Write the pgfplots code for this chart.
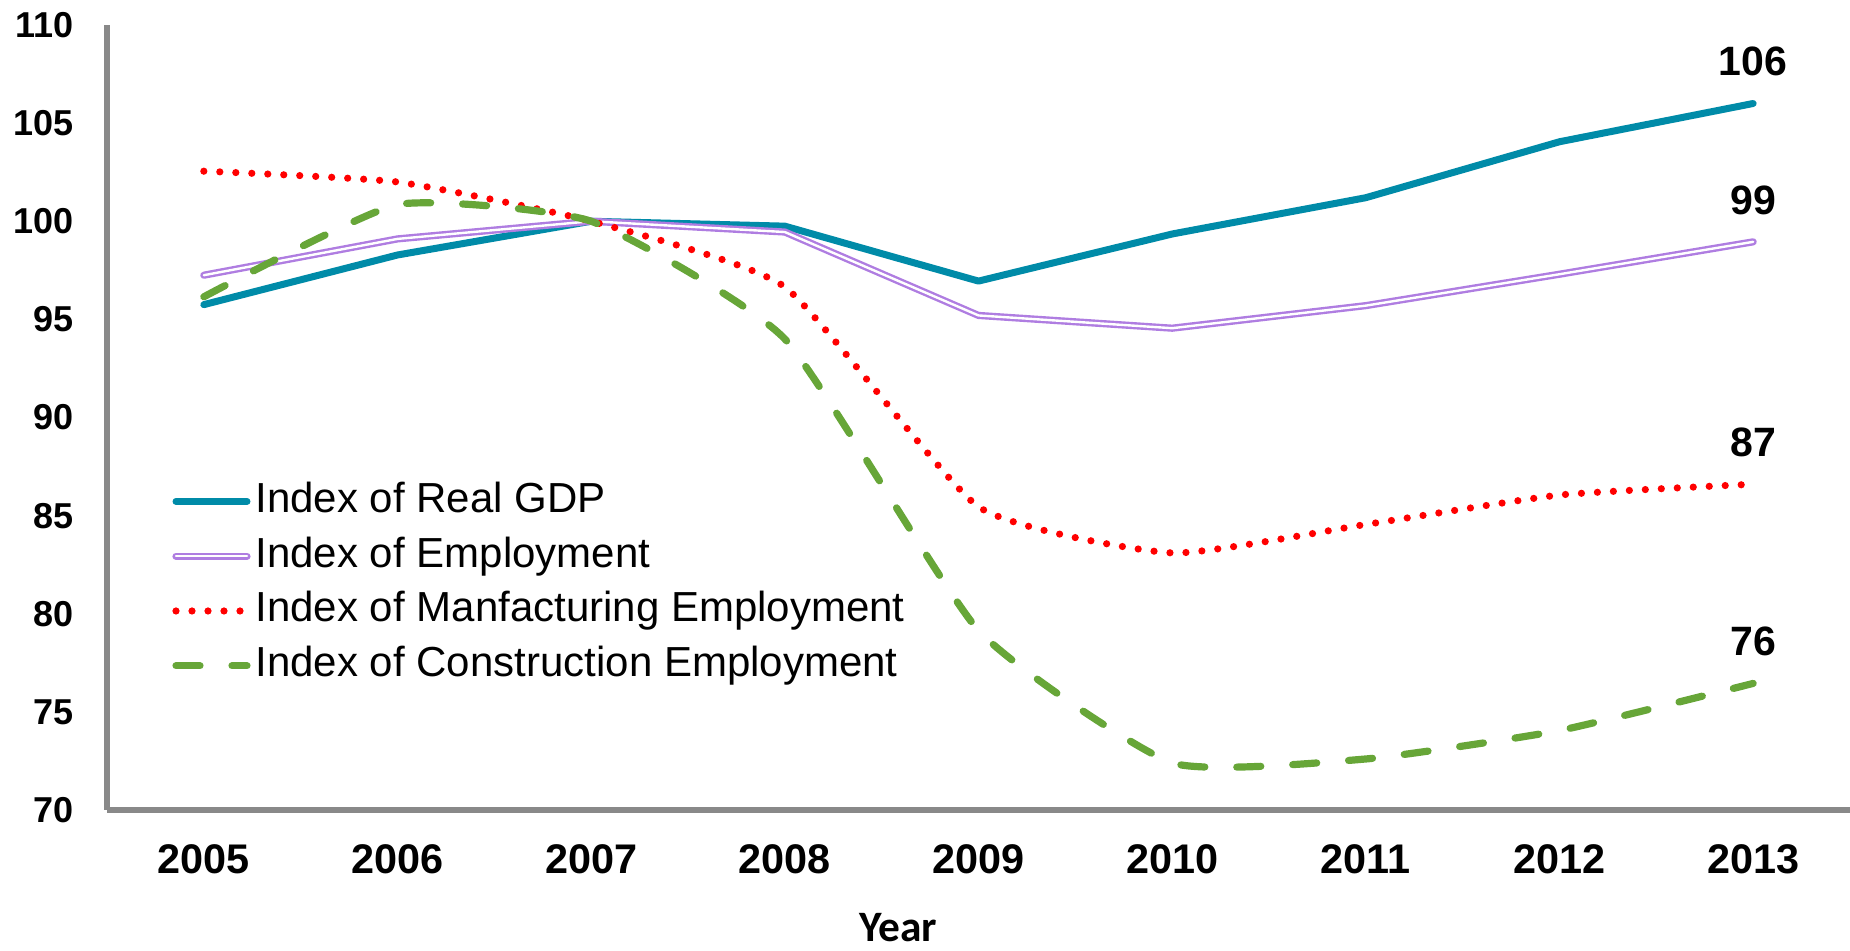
\documentclass[border=0pt]{standalone}
\usepackage{fontspec}
\setmainfont{Liberation Sans}
\newfontfamily\carlito{Carlito}
\usepackage{pgfplots}
\pgfplotsset{compat=1.18}
\definecolor{gdpc}{RGB}{0,139,168}
\definecolor{empc}{RGB}{175,125,225}
\definecolor{manc}{RGB}{255,0,0}
\definecolor{conc}{RGB}{103,166,56}
\definecolor{axisgray}{RGB}{137,137,137}
\begin{document}
\begin{tikzpicture}
\begin{axis}[
  at={(0,0)}, anchor=south west,
  scale only axis, width=871.5pt, height=392.5pt,
  xmin=2004.5, xmax=2013.5, ymin=70, ymax=110,
  xtick={2005,2006,2007,2008,2009,2010,2011,2012,2013},
  ytick={70,75,80,85,90,95,100,105,110},
  axis x line*=bottom, axis y line*=left,
  axis line style={draw=axisgray, line width=3pt, -},
  major tick length=0pt,
  /pgf/number format/1000 sep={},
  /pgf/number format/assume math mode=true,
  x tick label style={font=\bfseries\fontsize{20.7}{24}\selectfont, inner sep=0pt, anchor=north, yshift=-17pt},
  y tick label style={font=\bfseries\fontsize{18}{22}\selectfont, inner sep=0pt, anchor=east, xshift=-16.5pt},
  xlabel={Year},
  every axis x label/.style={at={(axis description cs:0.4538,0)}, anchor=base, yshift=-66pt, font=\carlito\bfseries\fontsize{21.7}{26}\selectfont},
  legend style={at={(axis description cs:0.0373,0.4204)}, anchor=north west, draw=none, fill=none, inner sep=0pt, column sep=2.5pt, row sep=6.4pt, font=\fontsize{21}{25}\selectfont, nodes={inner sep=0pt, text height=16pt, text depth=5pt}},
  legend cell align=left,
  legend image code/.code={\draw[#1] (0pt,0pt) -- (35.5pt,0pt);},
  clip=false,
]
\addplot[gdpc, line width=3.5pt, line cap=round, line join=round] coordinates {
 (2005,95.75) (2006,98.28) (2007,100.0) (2008,99.75) (2009,96.95) (2010,99.35) (2011,101.2) (2012,104.05) (2013,106.0)};
\addlegendentry{Index of Real GDP}
\addplot[empc, line width=1.2pt, double=white, double distance=1.2pt, line cap=round, line join=round] coordinates {
 (2005,97.25) (2006,99.1) (2007,100.0) (2008,99.45) (2009,95.2) (2010,94.55) (2011,95.7) (2012,97.3) (2013,98.95)};
\addlegendentry{Index of Employment}
\addplot[manc, line width=3.6pt, line cap=round, dash pattern=on 0pt off 8pt, smooth, tension=0.3] coordinates {
 (2005,102.55) (2006,102.0) (2007,100.0) (2008,96.65) (2009,85.45) (2010,83.1) (2011,84.55) (2012,86.05) (2013,86.6)};
\addlegendentry{Index of Manfacturing Employment}
\addplot[conc, line width=3.6pt, line cap=round, dash pattern=on 12pt off 16pt, smooth, tension=0.3] coordinates {
 (2005,96.15) (2006,100.85) (2007,100.0) (2008,94.0) (2009,79.15) (2010,72.4) (2011,72.6) (2012,74.05) (2013,76.45)};
\addlegendentry{Index of Construction Employment}
\node[anchor=south, yshift=13.5pt, inner sep=0pt, font=\bfseries\fontsize{20.5}{24}\selectfont] at (axis cs:2013,106.0) {106};
\node[anchor=south, yshift=13.5pt, inner sep=0pt, font=\bfseries\fontsize{20.5}{24}\selectfont] at (axis cs:2013,98.95) {99};
\node[anchor=south, yshift=13.5pt, inner sep=0pt, font=\bfseries\fontsize{20.5}{24}\selectfont] at (axis cs:2013,86.6) {87};
\node[anchor=south, yshift=13.5pt, inner sep=0pt, font=\bfseries\fontsize{20.5}{24}\selectfont] at (axis cs:2013,76.45) {76};
\end{axis}
\pgfresetboundingbox
\path[use as bounding box] (-53.5pt,-70.5pt) rectangle (871.5pt,405pt);
\end{tikzpicture}
\end{document}
